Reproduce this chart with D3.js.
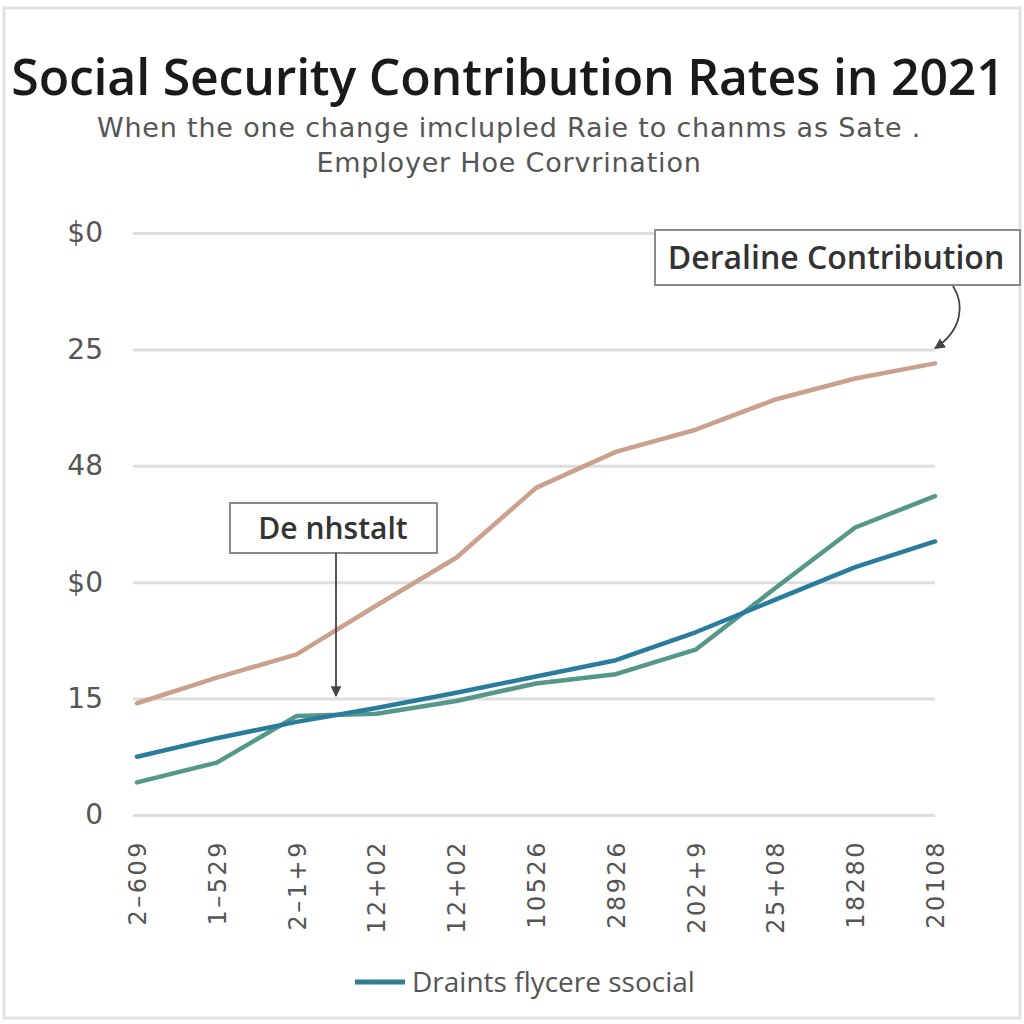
<!DOCTYPE html>
<html>
<head>
<meta charset="utf-8">
<script src="https://cdn.jsdelivr.net/npm/d3@7"></script>
<style>
  html, body { margin: 0; padding: 0; background: #ffffff; }
  svg { display: block; }
</style>
</head>
<body>
<svg id="chart" width="1024" height="1024"></svg>
<script>
// ---- data ----
const categories = ["2\u2013609", "1\u2013529", "2\u20131+9", "12+02", "12+02", "10526", "28926", "202+9", "25+08", "18280", "20108"];
const yTickValues = [0, 1, 2, 3, 4, 5];
const yTickLabels = ["0", "15", "$0", "48", "25", "$0"];
const tanSeries   = [0.96, 1.18, 1.38, 1.80, 2.21, 2.81, 3.12, 3.31, 3.57, 3.75, 3.88];
const blueSeries  = [0.50, 0.66, 0.80, 0.92, 1.05, 1.19, 1.33, 1.57, 1.85, 2.13, 2.35];
const greenSeries = [0.28, 0.45, 0.85, 0.87, 0.98, 1.13, 1.21, 1.42, 1.95, 2.47, 2.74];
const titleText = "Social Security Contribution Rates in 2021";
const subtitleLines = ["When the one change imclupled Raie to chanms as Sate .", "Employer Hoe Corvrination"];
const legendLabel = "Draints flycere ssocial";
const annotationTop = "Deraline Contribution";
const annotationMid = "De nhstalt";

// ---- layout ----
(function () {
const svg = d3.select("#chart");
const pl = 133, pr = 935, pt = 233, pb = 815;

svg.append("rect").attr("x", 4).attr("y", 8).attr("width", 1016).attr("height", 1010)
  .attr("fill", "#ffffff").attr("stroke", "#e2e2e2").attr("stroke-width", 3);

const x = d3.scalePoint().domain(d3.range(categories.length)).range([137, 935]);
const y = d3.scaleLinear().domain([0, 5]).range([pb, pt]);

// title
svg.append("text").attr("x", 508).attr("y", 95).attr("text-anchor", "middle")
  .attr("font-family", "Open Sans, sans-serif").attr("font-weight", 600)
  .attr("font-size", 50).attr("fill", "#1a1a1a").attr("letter-spacing", -0.2).text(titleText);
subtitleLines.forEach((t, i) => {
  svg.append("text").attr("x", 509).attr("y", 137 + i * 35).attr("text-anchor", "middle")
    .attr("font-family", "DejaVu Sans, sans-serif").attr("font-size", 27)
    .attr("fill", "#555").attr("letter-spacing", 0.8).text(t);
});

// y axis + grid
const yAxis = d3.axisLeft(y).tickValues(yTickValues)
  .tickFormat((d, i) => yTickLabels[i])
  .tickSizeInner(-(pr - pl)).tickSizeOuter(0).tickPadding(30);
const gy = svg.append("g").attr("transform", `translate(${pl},0)`).call(yAxis);
gy.select(".domain").remove();
gy.selectAll(".tick line").attr("stroke", "#dedede").attr("stroke-width", 3);
gy.selectAll(".tick text").attr("font-family", "DejaVu Sans, sans-serif")
  .attr("font-size", 28).attr("fill", "#555");

// x axis
const xAxis = d3.axisBottom(x).tickFormat((d, i) => categories[i]).tickSize(0);
const gx = svg.append("g").attr("transform", `translate(0,${pb})`).call(xAxis);
gx.select(".domain").remove();
gx.selectAll(".tick text")
  .attr("font-family", "DejaVu Sans, sans-serif").attr("font-size", 24).attr("fill", "#555")
  .attr("letter-spacing", 2.5)
  .attr("text-anchor", "end").attr("dy", "0.35em")
  .attr("transform", "translate(0,25) rotate(-90)").attr("x", 0).attr("y", 0);

// lines
const line = d3.line().x((d, i) => x(i)).y(d => y(d));
const series = [
  { data: tanSeries, color: "#c9a18c" },
  { data: greenSeries, color: "#55988a" },
  { data: blueSeries, color: "#2a7c9c" }
];
series.forEach(s => {
  svg.append("path").datum(s.data).attr("d", line).attr("fill", "none")
    .attr("stroke", s.color).attr("stroke-width", 4.5)
    .attr("stroke-linejoin", "round").attr("stroke-linecap", "round");
});

// markers / arrows
const defs = svg.append("defs");
defs.append("marker").attr("id", "arr").attr("viewBox", "0 0 10 10")
  .attr("refX", 9).attr("refY", 5).attr("markerWidth", 6).attr("markerHeight", 6)
  .attr("orient", "auto-start-reverse")
  .append("path").attr("d", "M0,0 L10,5 L0,10 Z").attr("fill", "#444");

// top annotation
svg.append("rect").attr("x", 655).attr("y", 230).attr("width", 365).attr("height", 55)
  .attr("fill", "#fff").attr("stroke", "#8a8a8a").attr("stroke-width", 2);
svg.append("text").attr("x", 836).attr("y", 269).attr("text-anchor", "middle")
  .attr("font-family", "Open Sans, sans-serif").attr("font-weight", 600)
  .attr("font-size", 32).attr("fill", "#333").attr("letter-spacing", 0).text(annotationTop);
svg.append("path").attr("d", `M953,286 C965,305 962,330 ${x(10)},${y(tanSeries[10]) - 15}`)
  .attr("fill", "none").attr("stroke", "#444").attr("stroke-width", 1.8)
  .attr("marker-end", "url(#arr)");

// middle annotation
svg.append("rect").attr("x", 230).attr("y", 503).attr("width", 207).attr("height", 50)
  .attr("fill", "#fff").attr("stroke", "#8a8a8a").attr("stroke-width", 2);
svg.append("text").attr("x", 333).attr("y", 539).attr("text-anchor", "middle")
  .attr("font-family", "Open Sans, sans-serif").attr("font-weight", 600)
  .attr("font-size", 30).attr("fill", "#333").text(annotationMid);
svg.append("line").attr("x1", 336).attr("y1", 553).attr("x2", 336).attr("y2", 696)
  .attr("stroke", "#444").attr("stroke-width", 1.8).attr("marker-end", "url(#arr)");

// legend
svg.append("line").attr("x1", 355).attr("y1", 982).attr("x2", 405).attr("y2", 982)
  .attr("stroke", "#2e7d92").attr("stroke-width", 5);
svg.append("text").attr("x", 412).attr("y", 992)
  .attr("font-family", "Open Sans, sans-serif").attr("font-size", 28)
  .attr("fill", "#555").attr("letter-spacing", 0).text(legendLabel);
})();
</script>
</body>
</html>
